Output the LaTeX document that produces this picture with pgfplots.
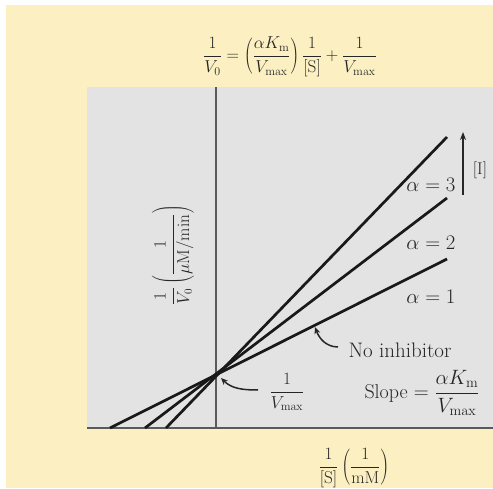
\documentclass[border=0pt]{standalone}
\usepackage{pgfplots}
\pgfplotsset{compat=1.18}
\usetikzlibrary{arrows.meta}
\definecolor{paper}{RGB}{252,240,195}
\definecolor{panel}{RGB}{227,227,228}
\definecolor{ink}{RGB}{38,38,38}
\definecolor{axisgray}{RGB}{90,90,90}

\begin{document}
\begin{tikzpicture}[x=1pt,y=1pt,font=\fontsize{20}{24}\selectfont]
\useasboundingbox (0,0) rectangle (493,488);
\fill[white] (0,0) rectangle (493,488);
\fill[paper] (6,0) rectangle (493,483);

\begin{axis}[
  at={(87pt,60pt)}, anchor=south west,
  width=406pt, height=341pt, scale only axis,
  xmin=-129, xmax=277, ymin=0, ymax=341,
  axis lines=middle,
  axis line style={-, draw=axisgray},
  x axis line style={line width=2.2pt},
  y axis line style={line width=1.4pt},
  xtick=\empty, ytick=\empty,
  axis background/.style={fill=panel},
  clip=false,
]
% Lineweaver-Burk lines for increasing inhibitor concentration
\addplot[black!90, line width=2.7pt] coordinates {(-106,0) (231,169)}; % alpha = 1
\addplot[black!90, line width=2.7pt] coordinates {(-71,0) (231,230)};  % alpha = 2
\addplot[black!90, line width=2.7pt] coordinates {(-50,0) (231,291)};  % alpha = 3
\end{axis}

% equation above the panel
\node[text=ink, font=\fontsize{18.5}{22}\selectfont] at (290,431)
  {$\displaystyle\frac{1}{V_0}=\left(\frac{\alpha K_{\mathrm{m}}}{V_{\mathrm{max}}}\right)\frac{1}{[\mathrm{S}]}+\frac{1}{V_{\mathrm{max}}}$};

% axis titles
\node[text=ink, rotate=90, font=\fontsize{16}{19}\selectfont] at (173,233)
  {$\displaystyle\frac{1}{V_0}\left(\frac{1}{\mu\mathrm{M/min}}\right)$};
\node[text=ink, font=\fontsize{16.5}{19}\selectfont] at (354,20)
  {$\displaystyle\frac{1}{[\mathrm{S}]}\left(\frac{1}{\mathrm{mM}}\right)$};

% alpha labels
\node[text=ink] at (431,303) {$\alpha=3$};
\node[text=ink] at (431,245) {$\alpha=2$};
\node[text=ink] at (431,191) {$\alpha=1$};

% increasing [I]
\draw[ink, line width=1.5pt, -{Stealth[length=8pt,width=6pt]}] (463,293) -- (463,356);
\node[text=ink, font=\fontsize{17}{20}\selectfont] at (480,318) {[I]};

% no-inhibitor callout
\node[text=ink, anchor=west, font=\fontsize{21}{25}\selectfont] at (345,138) {No inhibitor};
\draw[ink, line width=1.5pt, -{Stealth[length=7pt,width=6pt]}] (338,141) to[out=180,in=-70] (315,161);

% intercept callout
\node[text=ink, font=\fontsize{18}{21}\selectfont] at (287,96) {$\displaystyle\frac{1}{V_{\mathrm{max}}}$};
\draw[ink, line width=1.5pt, -{Stealth[length=7pt,width=6pt]}] (258,98) to[out=180,in=-45] (221,110);

% slope label
\node[text=ink, font=\fontsize{20}{24}\selectfont] at (422,95) {Slope $=\displaystyle\frac{\alpha K_{\mathrm{m}}}{V_{\mathrm{max}}}$};
\end{tikzpicture}
\end{document}
